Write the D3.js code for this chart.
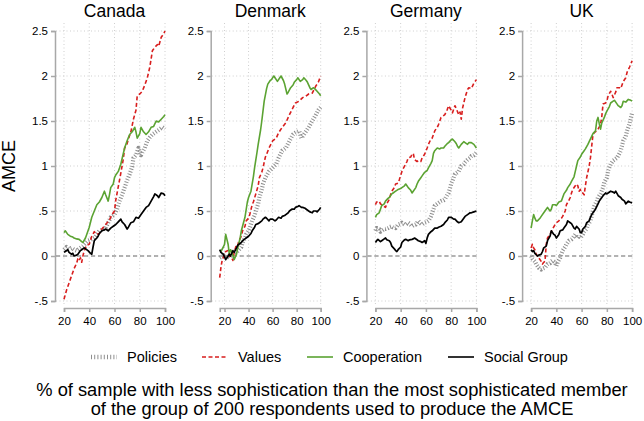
<!DOCTYPE html>
<html>
<head>
<meta charset="utf-8">
<script src="https://cdn.jsdelivr.net/npm/d3@7"></script>
<style>
  body { margin: 0; background: #fff; }
  svg { display: block; font-family: "Liberation Sans", Arial, Helvetica, sans-serif; }
  .grid { stroke: #cfcfcf; stroke-width: 1; stroke-dasharray: 1,2.5; }
  .axis path, .axis line { stroke: #a8a8a8; stroke-width: 1.5; }
  .axis text { fill: #000; font-size: 11.5px; }
</style>
</head>
<body>
<div class="chart"></div>
<script>
// panels and series
var countries = ["Canada", "Denmark", "Germany", "UK"];
var xStart = [20, 16, 20, 20];
var seriesNames = ["Policies", "Values", "Cooperation", "Social Group"];

var xTicks = [20, 40, 60, 80, 100];
var yTicks = [2.5, 2, 1.5, 1, 0.5, 0, -0.5];
var yTickLabels = ["2.5", "2", "1.5", "1", ".5", "0", "-.5"];

// Canada
var canadaPolicies = [[20,0.07],[22,0.1],[24,0.08],[26,0.09],[28,0.07],[30,0.06],[32,0.08],[34,0.1],[35,0.11],[37,0.14],[39,0.17],[41,0.18],[44,0.2],[46,0.24],[48,0.28],[50,0.29],[53,0.31],[55,0.37],[57,0.43],[60,0.46],[62,0.52],[64,0.61],[66,0.68],[68,0.76],[70,0.84],[72,0.91],[74,0.99],[75,1.09],[77,1.12],[79,1.2],[81,1.12],[82,1.15],[84,1.2],[86,1.28],[88,1.32],[90,1.35],[92,1.37],[94,1.39],[96,1.41],[98,1.43],[100,1.41]];
var canadaValues = [[20,-0.48],[22,-0.38],[24,-0.3],[26,-0.22],[28,-0.14],[30,-0.08],[31,-0.03],[32,-0.05],[33,-0.02],[34,-0.07],[35,0.0],[36,0.06],[38,0.12],[40,0.13],[42,0.22],[44,0.27],[46,0.24],[48,0.25],[50,0.3],[53,0.35],[56,0.4],[58,0.46],[60,0.5],[61,0.62],[63,0.77],[65,0.92],[67,1.08],[68,1.2],[70,1.25],[71,1.3],[73,1.38],[75,1.52],[77,1.62],[78,1.78],[80,1.8],[82,1.83],[84,1.9],[86,1.98],[88,2.1],[90,2.28],[92,2.32],[94,2.35],[95,2.33],[97,2.43],[99,2.47],[100,2.5]];
var canadaCooperation = [[20,0.26],[21,0.28],[23,0.24],[25,0.22],[27,0.21],[28,0.2],[30,0.19],[32,0.185],[34,0.16],[35,0.15],[37,0.2],[38,0.24],[40,0.32],[42,0.43],[44,0.5],[46,0.57],[48,0.6],[50,0.65],[52,0.72],[53,0.68],[55,0.61],[56,0.68],[57,0.76],[59,0.8],[60,0.87],[61,0.9],[63,0.94],[65,1.02],[66,1.08],[68,1.2],[70,1.28],[72,1.35],[74,1.38],[76,1.43],[77,1.38],[78,1.31],[80,1.36],[81,1.43],[83,1.38],[85,1.35],[87,1.38],[89,1.43],[91,1.44],[93,1.5],[95,1.49],[97,1.52],[99,1.55],[100,1.57]];
var canadaSocial = [[20,0.04],[21,0.05],[23,0.07],[24,0.04],[26,0.02],[27,0.03],[28,0.0],[30,0.01],[31,0.02],[33,0.06],[34,0.07],[36,0.09],[37,0.08],[39,0.06],[41,0.03],[42,0.02],[43,0.1],[44,0.17],[46,0.2],[47,0.22],[48,0.25],[50,0.28],[52,0.29],[53,0.3],[55,0.28],[57,0.31],[59,0.33],[61,0.35],[63,0.38],[65,0.41],[66,0.38],[68,0.35],[70,0.3],[71,0.32],[73,0.37],[75,0.38],[77,0.43],[79,0.42],[81,0.46],[83,0.5],[85,0.54],[87,0.56],[89,0.61],[91,0.66],[92,0.69],[94,0.67],[95,0.65],[97,0.7],[99,0.69],[100,0.67]];

// Denmark
var denmarkPolicies = [[16,-0.02],[17,-0.01],[19,0.0],[21,0.02],[22,0.0],[24,-0.02],[26,0.01],[27,0.02],[29,0.03],[30,0.04],[32,0.07],[34,0.1],[35,0.15],[37,0.2],[38,0.24],[40,0.28],[41,0.31],[43,0.39],[45,0.45],[46,0.5],[48,0.58],[49,0.65],[51,0.74],[52,0.8],[54,0.87],[57,0.94],[60,0.98],[63,1.02],[65,1.09],[68,1.17],[71,1.2],[74,1.28],[77,1.35],[79,1.37],[82,1.39],[84,1.31],[85,1.33],[87,1.37],[90,1.43],[93,1.5],[96,1.57],[98,1.62],[100,1.65]];
var denmarkValues = [[16,-0.24],[17,-0.13],[18,-0.05],[20,0.02],[21,0.05],[23,0.06],[24,0.0],[26,-0.02],[27,-0.05],[28,0.04],[30,0.13],[31,0.12],[32,0.17],[34,0.22],[35,0.28],[37,0.33],[38,0.39],[40,0.42],[41,0.46],[43,0.57],[44,0.6],[46,0.69],[48,0.78],[49,0.87],[51,0.93],[52,0.98],[54,1.1],[55,1.13],[57,1.2],[60,1.28],[63,1.31],[65,1.37],[68,1.43],[71,1.48],[74,1.57],[77,1.65],[79,1.7],[82,1.72],[85,1.76],[88,1.78],[90,1.8],[93,1.81],[96,1.89],[98,1.93],[100,2.0]];
var denmarkCooperation = [[17,0.05],[19,0.1],[20,0.13],[21,0.24],[23,0.13],[24,0.02],[25,0.07],[26,0.05],[28,-0.04],[30,0.02],[31,0.09],[33,0.2],[34,0.28],[36,0.38],[37,0.43],[39,0.6],[40,0.65],[42,0.72],[44,0.88],[45,0.98],[47,1.15],[48,1.24],[50,1.4],[51,1.5],[53,1.72],[55,1.86],[56,1.91],[58,1.95],[59,1.96],[61,2.0],[62,1.98],[64,1.94],[66,1.98],[67,2.0],[69,1.95],[70,1.91],[72,1.8],[73,1.82],[75,1.87],[77,1.9],[78,1.93],[80,1.96],[81,1.98],[83,1.94],[85,1.96],[86,1.98],[88,1.95],[89,1.93],[91,1.87],[92,1.85],[94,1.87],[95,1.86],[97,1.83],[99,1.8],[100,1.78]];
var denmarkSocial = [[16,0.07],[17,0.04],[19,0.02],[20,-0.01],[21,-0.04],[22,-0.02],[24,0.02],[25,0.0],[27,0.06],[28,0.04],[30,0.09],[31,0.12],[32,0.13],[34,0.15],[35,0.17],[37,0.19],[38,0.2],[40,0.22],[42,0.25],[43,0.28],[45,0.32],[46,0.35],[48,0.36],[49,0.37],[51,0.39],[52,0.41],[54,0.43],[55,0.42],[57,0.39],[58,0.41],[60,0.41],[62,0.39],[63,0.4],[65,0.43],[67,0.42],[68,0.44],[70,0.45],[71,0.46],[73,0.48],[74,0.5],[76,0.52],[78,0.52],[79,0.54],[81,0.55],[82,0.56],[84,0.54],[85,0.54],[87,0.53],[88,0.52],[90,0.5],[91,0.49],[93,0.48],[94,0.5],[96,0.5],[97,0.49],[99,0.52],[100,0.54]];

// Germany
var germanyPolicies = [[20,0.28],[21,0.31],[23,0.3],[24,0.27],[25,0.28],[27,0.3],[28,0.3],[30,0.31],[31,0.32],[33,0.33],[34,0.32],[36,0.31],[37,0.33],[38,0.35],[40,0.36],[41,0.37],[43,0.35],[44,0.35],[46,0.37],[47,0.36],[49,0.33],[50,0.34],[52,0.35],[53,0.37],[54,0.39],[56,0.36],[57,0.35],[59,0.37],[61,0.38],[62,0.39],[64,0.44],[65,0.48],[67,0.56],[69,0.58],[70,0.59],[72,0.61],[74,0.62],[75,0.63],[77,0.68],[78,0.7],[80,0.8],[82,0.87],[83,0.91],[85,0.93],[86,0.94],[88,1.0],[90,1.02],[91,1.04],[93,1.07],[95,1.09],[96,1.11],[98,1.12],[100,1.15]];
var germanyValues = [[20,0.57],[21,0.6],[23,0.61],[24,0.58],[25,0.57],[27,0.55],[28,0.54],[29,0.58],[31,0.63],[32,0.68],[33,0.72],[35,0.76],[36,0.8],[38,0.81],[39,0.85],[41,0.94],[42,0.97],[44,1.02],[45,1.05],[46,1.09],[48,1.1],[49,1.13],[50,1.14],[51,1.07],[53,1.05],[54,1.06],[56,1.05],[57,1.09],[59,1.13],[61,1.2],[62,1.24],[64,1.3],[65,1.31],[67,1.39],[69,1.43],[70,1.46],[72,1.54],[74,1.56],[75,1.57],[77,1.63],[78,1.67],[80,1.62],[81,1.59],[83,1.67],[84,1.64],[86,1.57],[87,1.6],[88,1.52],[89,1.64],[91,1.76],[93,1.85],[94,1.87],[96,1.86],[98,1.92],[100,1.96]];
var germanyCooperation = [[20,0.43],[21,0.46],[23,0.48],[24,0.52],[25,0.56],[27,0.58],[28,0.61],[30,0.64],[31,0.65],[33,0.69],[34,0.7],[36,0.72],[37,0.73],[38,0.74],[40,0.75],[41,0.76],[43,0.78],[44,0.8],[45,0.78],[46,0.76],[48,0.73],[49,0.7],[50,0.72],[52,0.76],[53,0.8],[54,0.83],[56,0.87],[57,0.89],[59,0.93],[61,0.95],[62,0.98],[64,1.03],[65,1.06],[66,1.14],[67,1.17],[69,1.2],[71,1.19],[72,1.2],[74,1.2],[75,1.22],[77,1.25],[78,1.26],[80,1.29],[81,1.3],[83,1.27],[84,1.25],[85,1.22],[86,1.2],[88,1.24],[90,1.27],[91,1.26],[93,1.24],[94,1.26],[96,1.26],[98,1.24],[100,1.2]];
var germanySocial = [[20,0.15],[21,0.17],[22,0.185],[24,0.16],[25,0.17],[27,0.19],[28,0.2],[29,0.18],[31,0.17],[32,0.15],[33,0.11],[35,0.08],[36,0.06],[37,0.05],[38,0.07],[40,0.1],[41,0.15],[43,0.18],[44,0.185],[46,0.17],[47,0.18],[49,0.185],[50,0.19],[51,0.2],[53,0.18],[54,0.17],[56,0.16],[57,0.15],[59,0.17],[60,0.14],[61,0.2],[62,0.24],[64,0.27],[65,0.28],[67,0.31],[69,0.31],[70,0.32],[72,0.33],[74,0.35],[75,0.37],[77,0.4],[78,0.43],[80,0.43],[82,0.41],[83,0.41],[85,0.38],[86,0.37],[88,0.38],[89,0.4],[91,0.44],[93,0.46],[95,0.48],[96,0.48],[98,0.49],[100,0.5]];

// UK
var ukPolicies = [[20,0.0],[21,-0.03],[23,-0.06],[24,-0.09],[25,-0.11],[26,-0.13],[28,-0.15],[29,-0.14],[31,-0.13],[32,-0.11],[33,-0.09],[35,-0.08],[36,-0.06],[37,-0.05],[39,-0.07],[40,-0.11],[41,-0.07],[43,-0.02],[44,0.02],[45,0.06],[47,0.1],[48,0.13],[50,0.17],[52,0.185],[53,0.2],[55,0.24],[57,0.2],[58,0.22],[59,0.2],[61,0.24],[62,0.27],[64,0.3],[65,0.35],[67,0.39],[69,0.5],[70,0.55],[72,0.61],[73,0.65],[75,0.69],[77,0.76],[78,0.82],[80,0.87],[81,0.95],[83,1.02],[85,1.06],[87,1.08],[88,1.09],[90,1.14],[91,1.17],[93,1.28],[95,1.33],[96,1.39],[98,1.47],[100,1.59]];
var ukValues = [[20,0.09],[21,0.13],[22,0.09],[23,0.07],[24,0.02],[26,-0.02],[28,-0.06],[29,-0.09],[30,-0.07],[31,-0.06],[32,0.13],[33,0.2],[35,0.24],[36,0.27],[37,0.3],[39,0.35],[40,0.37],[42,0.39],[43,0.41],[44,0.42],[45,0.44],[47,0.5],[48,0.57],[50,0.62],[51,0.65],[52,0.7],[53,0.74],[55,0.78],[56,0.8],[57,0.78],[58,0.72],[59,0.74],[60,0.7],[61,0.7],[62,0.68],[63,0.78],[64,0.87],[66,1.0],[67,1.09],[68,1.22],[69,1.35],[70,1.37],[72,1.39],[73,1.41],[75,1.46],[76,1.55],[77,1.69],[79,1.7],[80,1.72],[81,1.78],[83,1.83],[84,1.8],[85,1.76],[87,1.82],[88,1.87],[90,1.87],[91,1.86],[93,1.94],[95,1.98],[96,2.04],[98,2.1],[100,2.17]];
var ukCooperation = [[20,0.31],[21,0.39],[22,0.46],[23,0.42],[24,0.39],[25,0.39],[27,0.42],[28,0.44],[30,0.48],[31,0.5],[32,0.52],[33,0.54],[35,0.5],[36,0.52],[37,0.57],[39,0.57],[40,0.56],[41,0.58],[42,0.6],[44,0.61],[45,0.65],[46,0.69],[48,0.73],[49,0.76],[51,0.8],[52,0.83],[54,0.88],[55,0.94],[56,1.0],[57,1.06],[59,1.1],[60,1.13],[62,1.17],[63,1.19],[65,1.24],[66,1.27],[68,1.33],[69,1.36],[71,1.39],[72,1.5],[73,1.54],[74,1.47],[75,1.41],[76,1.48],[78,1.54],[79,1.58],[80,1.61],[82,1.66],[83,1.7],[85,1.72],[86,1.73],[88,1.69],[89,1.67],[91,1.65],[92,1.67],[93,1.72],[95,1.71],[97,1.74],[99,1.73],[100,1.72]];
var ukSocial = [[20,0.07],[21,0.05],[22,0.06],[23,0.03],[25,0.0],[26,0.01],[28,0.02],[29,0.05],[30,0.09],[32,0.11],[33,0.17],[35,0.22],[36,0.28],[38,0.24],[39,0.23],[40,0.2],[42,0.24],[43,0.28],[45,0.29],[46,0.31],[48,0.35],[49,0.39],[51,0.37],[52,0.36],[54,0.31],[55,0.3],[56,0.33],[58,0.3],[59,0.26],[60,0.26],[61,0.3],[63,0.33],[64,0.37],[66,0.39],[67,0.43],[68,0.46],[70,0.5],[71,0.52],[73,0.58],[74,0.61],[76,0.65],[77,0.67],[79,0.7],[80,0.69],[81,0.7],[83,0.72],[85,0.71],[86,0.7],[87,0.72],[89,0.67],[91,0.65],[92,0.63],[94,0.61],[95,0.58],[97,0.61],[98,0.6],[100,0.59]];

var panelSeries = [
  [canadaPolicies, canadaValues, canadaCooperation, canadaSocial],
  [denmarkPolicies, denmarkValues, denmarkCooperation, denmarkSocial],
  [germanyPolicies, germanyValues, germanyCooperation, germanySocial],
  [ukPolicies, ukValues, ukCooperation, ukSocial]
];

// line styles per series
var styles = [
  {color: "#8f8f8f", width: 4.2, dash: "1,1.8"},
  {color: "#d81e1e", width: 1.6, dash: "4,2.5"},
  {color: "#5ba332", width: 1.6, dash: null},
  {color: "#000000", width: 1.7, dash: null}
];

var W = 644, H = 421;
var panelLeft = 55, panelStep = 155.7;
var plotTop = 23, plotBottom = 304;
var xAxisY = 308;

var svg = d3.select(".chart")
    .append("svg")
    .attr("width", W)
    .attr("height", H);

var y = d3.scaleLinear().domain([-0.5, 2.5]).range([301, 31]);

countries.forEach(function(name, i) {
  var left = panelLeft + i * panelStep;
  var x = d3.scaleLinear().domain([xStart[i], 100]).range([left + 9, left + 110]);
  var right = left + 113;

  var g = svg.append("g");

  // grid
  g.selectAll(".hgrid")
      .data(yTicks)
    .enter().append("line")
      .classed("grid", true)
      .attr("x1", left + 1).attr("x2", right)
      .attr("y1", function(d) { return y(d); })
      .attr("y2", function(d) { return y(d); });

  g.selectAll(".vgrid")
      .data(xTicks)
    .enter().append("line")
      .classed("grid", true)
      .attr("x1", function(d) { return x(d); })
      .attr("x2", function(d) { return x(d); })
      .attr("y1", plotTop).attr("y2", plotBottom);

  // zero line
  g.append("line")
      .attr("x1", left + 1).attr("x2", right)
      .attr("y1", y(0)).attr("y2", y(0))
      .style("stroke", "#9a9a9a")
      .style("stroke-width", 1.3)
      .style("stroke-dasharray", "4,3");

  // axes
  g.append("g")
      .classed("axis", true)
      .attr("transform", "translate(" + left + ",0)")
      .call(d3.axisLeft(y).tickValues(yTicks).tickSizeOuter(0).tickSize(4).tickPadding(3)
        .tickFormat(function(d, k) { return yTickLabels[k]; }));

  g.append("g")
      .classed("axis", true)
      .attr("transform", "translate(0," + xAxisY + ")")
      .call(d3.axisBottom(x).tickValues(xTicks).tickSizeOuter(0).tickSize(4).tickPadding(5)
        .tickFormat(d3.format("d")));

  // lines
  var line = d3.line()
      .x(function(d) { return x(d[0]); })
      .y(function(d) { return y(d[1]); });

  panelSeries[i].forEach(function(series, k) {
    g.append("path")
        .datum(series)
        .attr("d", line)
        .style("fill", "none")
        .style("stroke", styles[k].color)
        .style("stroke-width", styles[k].width)
        .style("stroke-dasharray", styles[k].dash)
        .style("stroke-linejoin", "round");
  });

  // panel title
  g.append("text")
      .attr("x", (x(xStart[i]) + x(100)) / 2)
      .attr("y", 17)
      .style("text-anchor", "middle")
      .style("font-size", "17.5px")
      .text(name);
});

// y label
svg.append("text")
    .attr("transform", "translate(15," + y(1) + ") rotate(-90)")
    .style("text-anchor", "middle")
    .style("font-size", "18px")
    .text("AMCE");

// legend
var legendX = [91, 202, 307, 448];
var legend = svg.selectAll(".legend")
    .data(seriesNames)
  .enter().append("g")
    .attr("transform", function(d, k) { return "translate(" + legendX[k] + ",357)"; });

legend.append("line")
    .attr("x1", 0).attr("x2", 26)
    .attr("y1", 0).attr("y2", 0)
    .style("stroke", function(d, k) { return styles[k].color; })
    .style("stroke-width", function(d, k) { return k === 0 ? 4.5 : 1.6; })
    .style("stroke-dasharray", function(d, k) { return k === 0 ? "1,2.2" : styles[k].dash; });

legend.append("text")
    .attr("x", 36)
    .attr("y", 5)
    .style("font-size", "14.5px")
    .text(function(d) { return d; });

// bottom caption
var caption = ["% of sample with less sophistication than the most sophisticated member",
               "of the group of 200 respondents used to produce the AMCE"];
svg.selectAll(".caption")
    .data(caption)
  .enter().append("text")
    .attr("x", 332)
    .attr("y", function(d, k) { return 396 + k * 19; })
    .style("text-anchor", "middle")
    .style("font-size", "18.3px")
    .text(function(d) { return d; });
</script>
</body>
</html>
